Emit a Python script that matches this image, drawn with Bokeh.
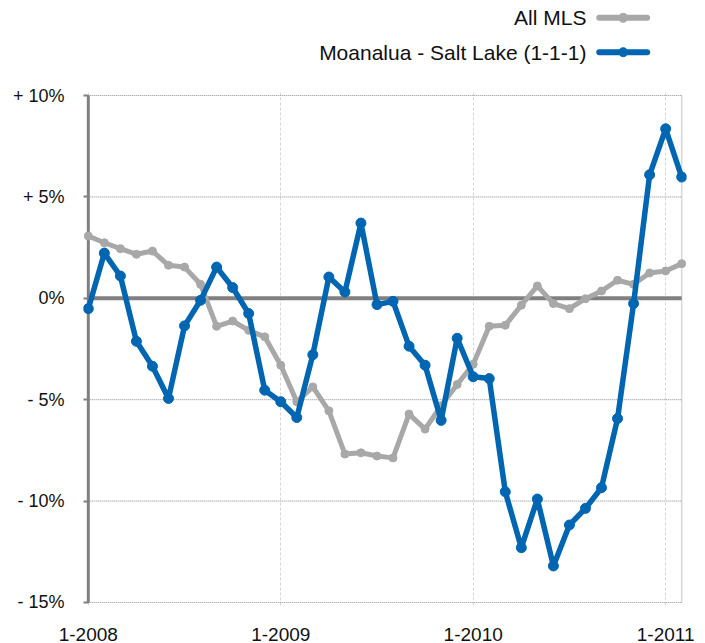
from bokeh.plotting import figure
from bokeh.layouts import column
from bokeh.models import Range1d, FixedTicker
from bokeh.core.properties import value
from bokeh.embed import file_html
from bokeh.resources import INLINE

# ---------------- data ----------------
series_names = ["All MLS", "Moanalua - Salt Lake (1-1-1)"]

all_mls = [3.07, 2.74, 2.45, 2.17, 2.33, 1.63, 1.54, 0.69, -1.38, -1.12,
           -1.58, -1.90, -3.30, -5.10, -4.37, -5.55, -7.68, -7.62, -7.78, -7.87,
           -5.71, -6.45, -5.30, -4.25, -3.25, -1.38, -1.33, -0.34, 0.61, -0.26,
           -0.51, -0.02, 0.36, 0.89, 0.69, 1.25, 1.35, 1.71]

moanalua = [-0.51, 2.23, 1.10, -2.12, -3.35, -4.94, -1.36, -0.10, 1.54, 0.53,
            -0.75, -4.53, -5.10, -5.88, -2.78, 1.05, 0.31, 3.71, -0.31, -0.15,
            -2.36, -3.30, -6.02, -1.97, -3.87, -3.96, -9.54, -12.30, -9.90, -13.20,
            -11.18, -10.36, -9.34, -5.93, -0.26, 6.09, 8.36, 5.98]

x_tick_months = [0, 12, 24, 36]
x_tick_labels = ["1-2008", "1-2009", "1-2010", "1-2011"]

y_ticks = [-15, -10, -5, 0, 5, 10]
y_tick_labels = ["- 15%", "- 10%", "- 5%", "0%", "+ 5%", "+ 10%"]

months = list(range(len(all_mls)))

# ---------------- styles ----------------
FONT = "Liberation Sans"
GRAY = "#a8a8a8"
BLUE = "#0066b2"
AXIS = "#808080"
TEXT = "#111111"

# ---------------- legend strip ----------------
leg = figure(width=705, height=68, x_range=Range1d(0, 705), y_range=Range1d(0, 68),
             x_axis_type=None, y_axis_type=None, output_backend="svg",
             toolbar_location=None, min_border=0, outline_line_color=None)
leg.grid.visible = False

leg_rows_y = [50.7, 16.3]
leg_colors = [GRAY, BLUE]
text_right = 588
sample_x0, sample_x1, sample_mid = 603, 659, 631
leg.text(x=[text_right] * 2, y=leg_rows_y, text=series_names,
         text_font=value(FONT), text_font_size="21px", text_align="right",
         text_baseline="middle", text_color=TEXT)
for yy, col in zip(leg_rows_y, leg_colors):
    leg.segment(x0=[sample_x0], y0=[yy], x1=[sample_x1], y1=[yy],
                line_color=col, line_width=6, line_cap="round")
    leg.scatter(x=[sample_mid], y=[yy], size=9, color=col)

# ---------------- main chart ----------------
p = figure(frame_width=603, frame_height=513,
           x_range=Range1d(-0.3, 37.3), y_range=Range1d(-15.15, 10.15),
           min_border_left=83, min_border_right=19, min_border_top=24,
           min_border_bottom=38, output_backend="svg", toolbar_location=None,
           outline_line_color=None)

# y axis
p.yaxis.ticker = FixedTicker(ticks=y_ticks)
p.yaxis.major_label_overrides = {t: lab for t, lab in zip(y_ticks, y_tick_labels)}
p.yaxis.axis_line_color = None
p.yaxis.major_tick_in = 5
p.yaxis.major_tick_out = 0
p.yaxis.major_tick_line_color = AXIS
p.yaxis.major_tick_line_width = 2
p.yaxis.minor_tick_line_color = None
p.yaxis.major_label_standoff = 19
p.yaxis.major_label_text_font = FONT
p.yaxis.major_label_text_font_size = "18px"
p.yaxis.major_label_text_color = TEXT

# x axis
p.xaxis.ticker = FixedTicker(ticks=x_tick_months)
p.xaxis.major_label_overrides = {t: lab for t, lab in zip(x_tick_months, x_tick_labels)}
p.xaxis.axis_line_color = None
p.xaxis.major_tick_line_color = None
p.xaxis.minor_tick_line_color = None
p.xaxis.major_label_standoff = 16
p.xaxis.major_label_text_font = FONT
p.xaxis.major_label_text_font_size = "19px"
p.xaxis.major_label_text_color = TEXT

# grids
p.xgrid.ticker = FixedTicker(ticks=x_tick_months)
p.xgrid.grid_line_color = "#d6d6d6"
p.xgrid.grid_line_dash = "3 2"
p.xgrid.grid_line_width = 1
p.ygrid.visible = False

grid_y = [t for t in y_ticks if t != 0]
p.segment(x0=[months[0]] * len(grid_y), y0=grid_y, x1=[months[-1]] * len(grid_y), y1=grid_y,
          line_color="#8a8a8a", line_width=1, line_dash="1 1")
# right border
p.segment(x0=[months[-1]], y0=[y_ticks[0]], x1=[months[-1]], y1=[y_ticks[-1]],
          line_color="#b0b0b0", line_width=1.5, line_dash="1 1")
# zero line
p.segment(x0=[months[0]], y0=[0], x1=[months[-1]], y1=[0],
          line_color=AXIS, line_width=4)
# y axis line
p.segment(x0=[months[0]], y0=[y_ticks[0]], x1=[months[0]], y1=[y_ticks[-1]],
          line_color=AXIS, line_width=3)

# series
p.line(months, all_mls, line_color=GRAY, line_width=5, line_join="round")
p.scatter(months, all_mls, size=8, color=GRAY)
p.line(months, moanalua, line_color=BLUE, line_width=5.5, line_join="round")
p.scatter(months, moanalua, size=10, color=BLUE)

layout = column(leg, p, spacing=0)
open("out.html", "w").write(file_html(layout, INLINE))
